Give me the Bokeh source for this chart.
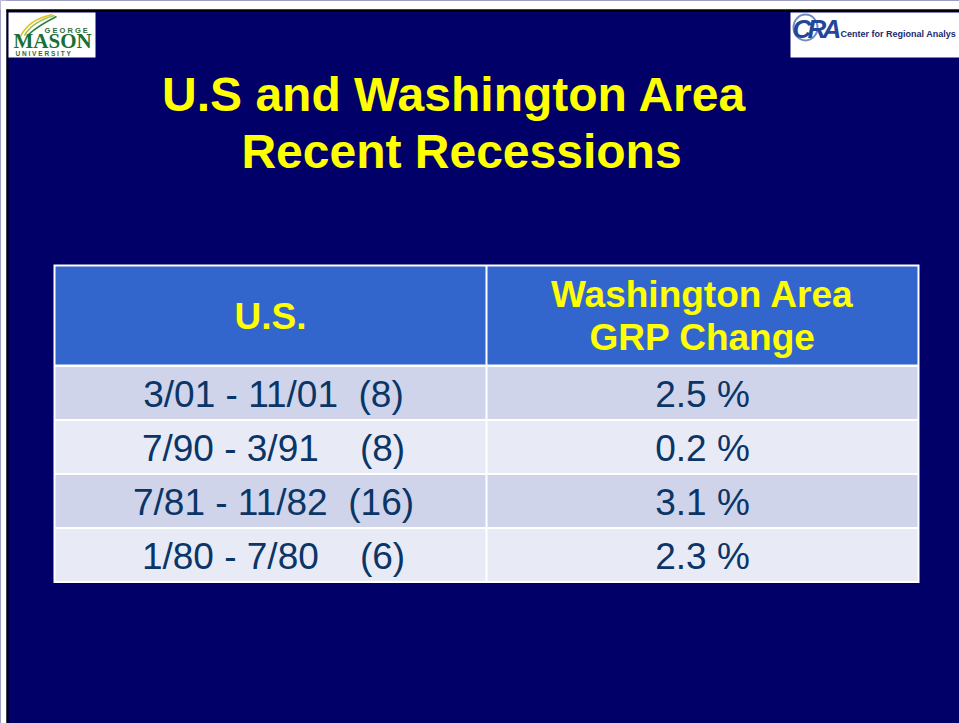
from bokeh.plotting import figure
from bokeh.models import Range1d
from bokeh.core.properties import value
from bokeh.embed import file_html
from bokeh.resources import INLINE

# ---------------- data ----------------
title_lines = ["U.S and Washington Area", "Recent Recessions"]
header_left = "U.S."
header_right = ["Washington Area", "GRP Change"]
rec_start = ["3/01", "7/90", "7/81", "1/80"]
rec_end = ["11/01", "3/91", "11/82", "7/80"]
rec_months = [8, 8, 16, 6]
grp_change = [2.5, 0.2, 3.1, 2.3]

NB = "\u00a0"
us_labels = []
for s, e, m in zip(rec_start, rec_end, rec_months):
    pad = 2 if len(e) == 5 else 4
    us_labels.append(f"{s} - {e}" + NB * pad + f"({m})")
grp_labels = [f"{v:.1f} %" for v in grp_change]

# ---------------- styling ----------------
NAVY = "#000068"
HEAD = "#3366CC"
ROW_COLORS = ["#CFD4EA", "#E8EAF6"]
TXT = "#0A3566"
YEL = "#FFFF00"
FONT = value("Liberation Sans")

W, H = 959, 723

p = figure(width=W, height=H, x_range=Range1d(0, W), y_range=Range1d(H, 0),
           output_backend="svg", toolbar_location=None, min_border=0,
           x_axis_type=None, y_axis_type=None,
           background_fill_color=NAVY, border_fill_color=NAVY)
p.outline_line_color = None
p.xgrid.visible = False
p.ygrid.visible = False

# slide frame (white page edge + thin black rule)
p.quad(left=[0, 0], right=[W, 6], top=[0, 0], bottom=[9, H], fill_color="white", line_color=None)
p.quad(left=[6, 6], right=[W, 8], top=[9, 9], bottom=[11, H], fill_color="black", line_color=None)

# ---------------- logos ----------------
# George Mason University
p.quad(left=[8], right=[95], top=[12], bottom=[57], fill_color="white", line_color=None)
p.quadratic(x0=[20, 24, 28], y0=[36, 35, 34],
            x1=[52, 54, 56], y1=[14, 15, 16],
            cx=[28, 32, 38], cy=[19, 21, 25],
            line_color=["#E5C21A", "#9CC35A", "#2E7D3A"], line_width=1.6)
p.text(x=[44], y=[30], text=["G E O R G E"], text_font=FONT, text_font_style="bold",
       text_font_size=value("7.5px"), text_color="#2E6B3C", text_baseline="middle")
p.text(x=[13], y=[40.5], text=["MASON"], text_font=value("Liberation Serif"), text_font_style="bold",
       text_font_size=value("21px"), text_color="#1B6E35", text_baseline="middle")
p.text(x=[15], y=[53], text=[NB.join("UNIVERSITY")],
       text_font=FONT, text_font_style="bold", text_font_size=value("6.5px"),
       text_color="#2E6B3C", text_baseline="middle")

# Center for Regional Analysis
p.quad(left=[790], right=[W], top=[12], bottom=[57], fill_color="white", line_color=None)
p.ellipse(x=[805], y=[27], width=24, height=26, fill_color=None,
          line_color="#6F8CC4", line_width=2)
p.text(x=[792, 807, 822], y=[28, 28, 28], text=["C", "R", "A"], text_font=FONT,
       text_font_style="bold italic", text_font_size=value("26px"), text_color="#23469A",
       text_baseline="middle")
p.text(x=[840], y=[33], text=["Center for Regional Analys"],
       text_font=FONT, text_font_style="bold",
       text_font_size=value("9px"), text_color="#1A2A6C", text_baseline="middle")

# ---------------- title ----------------
p.text(x=[454, 461], y=[94, 150.5], text=title_lines, text_align="center",
       text_baseline="middle", text_font=FONT, text_font_style="bold",
       text_font_size=value("48px"), text_color=YEL)

# ---------------- table ----------------
T_LEFT, T_RIGHT, T_TOP = 53, 919, 264
C1_L, C1_R, C2_L, C2_R = 55, 485, 487, 917
HEAD_TOP, HEAD_BOT = 266, 364
ROW_TOP0, ROW_PITCH, ROW_H = 366.5, 54, 52
n = len(us_labels)
T_BOT = ROW_TOP0 + (n - 1) * ROW_PITCH + ROW_H + 2

p.quad(left=[T_LEFT], right=[T_RIGHT], top=[T_TOP], bottom=[T_BOT],
       fill_color="white", line_color=None)
p.quad(left=[C1_L, C2_L], right=[C1_R, C2_R], top=[HEAD_TOP] * 2,
       bottom=[HEAD_BOT] * 2, fill_color=HEAD, line_color=None)

row_tops = [ROW_TOP0 + i * ROW_PITCH for i in range(n)]
row_bots = [t + ROW_H for t in row_tops]
row_fill = [ROW_COLORS[i % 2] for i in range(n)]
p.quad(left=[C1_L] * n, right=[C1_R] * n, top=row_tops, bottom=row_bots,
       fill_color=row_fill, line_color=None)
p.quad(left=[C2_L] * n, right=[C2_R] * n, top=row_tops, bottom=row_bots,
       fill_color=row_fill, line_color=None)

c1x = (C1_L + C1_R) / 2
c2x = (C2_L + C2_R) / 2

# headers
p.text(x=[c1x], y=[316], text=[header_left], text_align="center", text_baseline="middle",
       text_font=FONT, text_font_style="bold", text_font_size=value("37px"), text_color=YEL)
p.text(x=[c2x] * 2, y=[293.5, 336.5], text=header_right, text_align="center",
       text_baseline="middle", text_font=FONT, text_font_style="bold",
       text_font_size=value("37px"), text_color=YEL)

# body
mid_y = [(t + b) / 2 + 1 for t, b in zip(row_tops, row_bots)]
p.text(x=[c1x + 3] * n, y=mid_y, text=us_labels, text_align="center", text_baseline="middle",
       text_font=FONT, text_font_size=value("37px"), text_color=TXT)
p.text(x=[c2x] * n, y=mid_y, text=grp_labels, text_align="center", text_baseline="middle",
       text_font=FONT, text_font_size=value("37px"), text_color=TXT)

open("out.html", "w").write(file_html(p, INLINE))
